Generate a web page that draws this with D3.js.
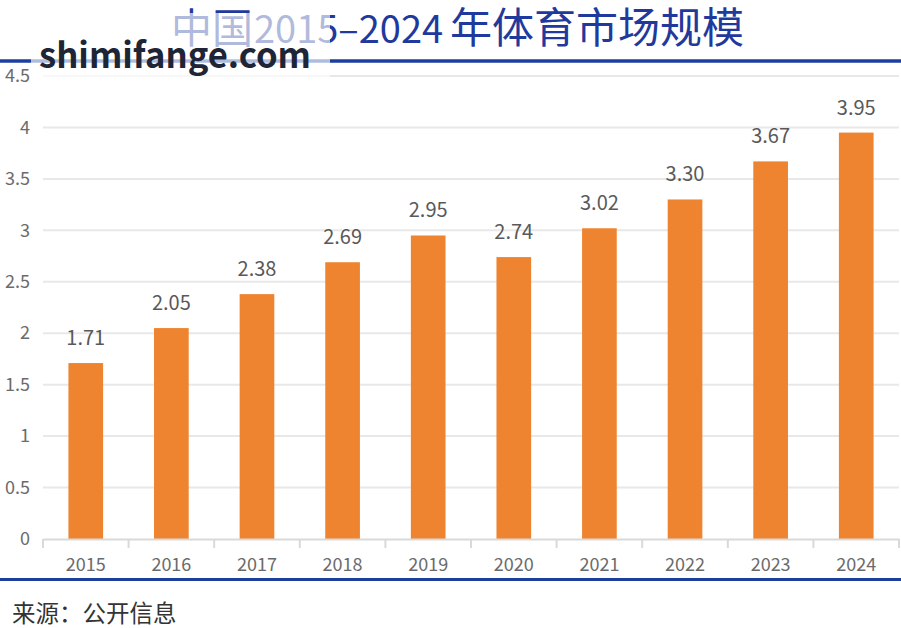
<!DOCTYPE html>
<html>
<head>
<meta charset="utf-8">
<script src="https://cdn.jsdelivr.net/npm/d3@7"></script>
<style>
  html, body { margin: 0; padding: 0; background: #fff; }
  svg { display: block; }
  text { font-family: "Noto Sans CJK SC", "Noto Sans", sans-serif; }
</style>
</head>
<body>
<div id="chart"></div>
<script>
// the data behind the bars
var years = ["2015","2016","2017","2018","2019","2020","2021","2022","2023","2024"];
var values = [1.71,2.05,2.38,2.69,2.95,2.74,3.02,3.30,3.67,3.95];
var yTicks = [0,0.5,1,1.5,2,2.5,3,3.5,4,4.5];

var titleParts = ["中国", "2015–2024", "年体育市场规模"];
var sourceText = "来源：公开信息";
var watermarkText = "shimifange.com";

var width = 901,
    height = 628,
    plot = {left:43,right:899,top:76,bottom:539};

var svg = d3.select('#chart')
  .append('svg')
  .attr('width', width)
  .attr('height', height)
  .style('background', '#fff');

var xScale = d3.scaleBand()
  .domain(years)
  .range([plot.left, plot.right])
  .paddingInner(0.595)
  .paddingOuter(0.297);

var yScale = d3.scaleLinear()
  .domain([0,4.5])
  .range([plot.bottom, plot.top]);

// title, digits are a bit smaller than the hanzi
var title = svg.append('text')
  .attr('x', 171)
  .attr('y', 43)
  .attr('fill', '#1f3a9c');
title.append('tspan').attr('font-size', 41).text(titleParts[0]);
title.append('tspan').attr('font-size', 38).attr('dx', 1).text(titleParts[1]);
title.append('tspan').attr('font-size', 42).attr('dx', 7).text(titleParts[2]);

// the two blue rules
svg.append('line')
  .attr('x1', 0).attr('x2', width)
  .attr('y1', 61).attr('y2', 61)
  .attr('stroke', '#1c3f9f')
  .attr('stroke-width', 3.5);

svg.append('line')
  .attr('x1', 0).attr('x2', width)
  .attr('y1', 579.5).attr('y2', 579.5)
  .attr('stroke', '#1c3f9f')
  .attr('stroke-width', 3);

// gridlines
svg.append('g').selectAll('line').data(yTicks.filter(function (d) { return d > 0; }))
  .enter().append('line')
  .attr('x1', plot.left)
  .attr('x2', plot.right)
  .attr('y1', function (d) { return yScale(d); })
  .attr('y2', function (d) { return yScale(d); })
  .attr('stroke', '#e8e8e8')
  .attr('stroke-width', 2);

// bars
svg.append('g').selectAll('rect').data(values)
  .enter().append('rect')
  .attr('fill', '#ee842f')
  .attr('x', function (d, i) { return xScale(years[i]); })
  .attr('width', xScale.bandwidth())
  .attr('y', function (d) { return yScale(d); })
  .attr('height', function (d) { return yScale(0) - yScale(d); });

// value labels
svg.append('g').selectAll('text').data(values)
  .enter().append('text')
  .attr('x', function (d, i) { return xScale(years[i]) + xScale.bandwidth() / 2; })
  .attr('y', function (d) { return yScale(d) - 18; })
  .attr('text-anchor', 'middle')
  .attr('font-size', 20)
  .attr('fill', '#595959')
  .text(function (d) { return d.toFixed(2); });

// axes
var yAxis = d3.axisLeft(yScale)
  .tickValues(yTicks)
  .tickFormat(function (d) { return d; })
  .tickSize(0)
  .tickPadding(13);

var yG = svg.append('g')
  .attr('transform', 'translate(' + plot.left + ',0)')
  .call(yAxis);
yG.select('.domain').remove();
yG.selectAll('text')
  .attr('font-size', 18)
  .attr('fill', '#6b6b6b');

var xAxis = d3.axisBottom(xScale).tickSize(0).tickPadding(19);

var xG = svg.append('g')
  .attr('transform', 'translate(0,' + plot.bottom + ')')
  .call(xAxis);
xG.select('.domain')
  .attr('stroke', '#d9d9d9')
  .attr('stroke-width', 2);
xG.selectAll('text')
  .attr('font-size', 18)
  .attr('fill', '#6b6b6b');

// small separators under the baseline, one on every band edge
var edges = years.map(function (d) { return xScale(d) - xScale.step() * xScale.paddingInner() / 2; });
edges.push(plot.right);
svg.append('g').selectAll('line').data(edges)
  .enter().append('line')
  .attr('x1', function (d) { return d; })
  .attr('x2', function (d) { return d; })
  .attr('y1', plot.bottom)
  .attr('y2', plot.bottom + 9)
  .attr('stroke', '#d9d9d9')
  .attr('stroke-width', 2);

// source note
svg.append('text')
  .attr('x', 12)
  .attr('y', 622)
  .attr('font-size', 23.5)
  .attr('fill', '#333')
  .text(sourceText);

// watermark with its pale band over the title
svg.append('rect')
  .attr('x', 31).attr('y', 13)
  .attr('width', 299).attr('height', 66)
  .attr('fill', '#fff')
  .attr('fill-opacity', 0.65);

svg.append('text')
  .attr('x', 39)
  .attr('y', 68)
  .attr('font-family', '"Open Sans", "Noto Sans", sans-serif')
  .attr('font-size', 35)
  .attr('font-weight', 700)
  .attr('textLength', 272)
  .attr('lengthAdjust', 'spacingAndGlyphs')
  .attr('fill', '#1e2536')
  .text(watermarkText);
</script>
</body>
</html>
